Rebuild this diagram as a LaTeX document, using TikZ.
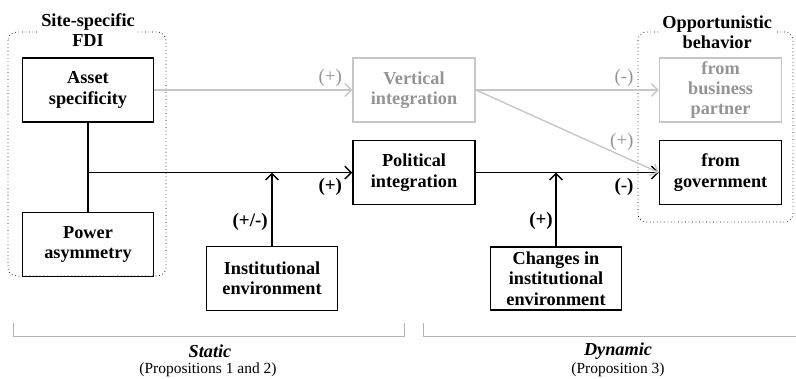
\documentclass[tikz,border=0pt]{standalone}
\usepackage{fontspec}
\setmainfont{Liberation Serif}
\usepackage{xcolor}
\usetikzlibrary{arrows.meta, positioning}

\begin{document}
\begin{tikzpicture}[
  box/.style={draw,line width=1.1pt,minimum width=3.275cm,minimum height=1.6cm,
              inner sep=2pt,align=center,font=\bfseries\fontsize{13}{14.5}\selectfont},
  nbox/.style={box,minimum width=3.05cm},
  gbox/.style={nbox,draw=black!22,text=black!42},
  group/.style={draw,dotted,rounded corners=6pt,line width=0.5pt},
  title/.style={fill=white,inner sep=2pt,align=center,font=\bfseries\fontsize{13}{14.5}\selectfont},
  sign/.style={inner sep=0pt,font=\bfseries\fontsize{13.5}{13.5}\selectfont},
  gsign/.style={sign,font=\fontsize{13.5}{13.5}\selectfont,text=black!42},
  arr/.style={-{Straight Barb[length=1.6mm,width=3.2mm]},line width=1pt},
  garr/.style={arr,draw=black!22},
  brace/.style={draw=black!30,line width=0.6pt},
]
\useasboundingbox (0,0) rectangle (19.9,-9.475);

% grouping frames
\draw[group] (0.2,-0.8) rectangle (4.15,-6.9);
\draw[group] (15.95,-0.8) rectangle (19.825,-5.55);
\node[title] (fdilab) at (2.2,-0.75) {Site-specific\\FDI};
\node[title] (opplab) at (17.93,-0.8) {Opportunistic\\behavior};

% left column
\node[box] (asset) at (2.2,-2.25) {Asset\\specificity};
\node[box, below=2.225cm of asset] (power) {Power\\asymmetry};

% middle column
\node[gbox, right=4.95cm of asset] (vertical) {Vertical\\integration};
\node[nbox, below=0.425cm of vertical] (political) {Political\\integration};

% right column
\node[gbox, right=4.575cm of vertical] (business) {from\\business\\partner};
\node[nbox, below=0.425cm of business] (government) {from\\government};

% moderators
\node[box] (inst) at (6.8,-6.96) {Institutional\\environment};
\node[box, inner sep=0.5pt, minimum height=1.575cm] (change) at (13.9,-6.96) {Changes in\\institutional\\environment};

% edges
\draw[line width=1pt] (asset) -- (power);
\draw[arr] (asset.south |- political.west) -- (political.west);
\draw[arr] (political.east) -- (government.west);
\draw[arr] (inst.north) -- (inst.north |- political.west);
\draw[arr] (change.north) -- (change.north |- political.west);
\draw[garr] (asset.east) -- (vertical.west);
\draw[garr] (vertical.east) -- (business.west);
\draw[garr] (vertical.east) -- (government.west);

% signs
\node[gsign, above left=0.075cm and 0.25cm of vertical.west] {(+)};
\node[sign, below left=0.15cm and 0.25cm of political.west] {(+)};
\node[sign, above left=0.375cm and 0.1cm of inst.north] {(+/-)};
\node[sign, above left=0.4cm and 0.075cm of change.north] {(+)};
\node[gsign, above left=0.075cm and 0.625cm of business.west] {(-)};
\node[gsign, above left=0.55cm and 0.625cm of government.west] {(+)};
\node[sign, below left=0.15cm and 0.625cm of government.west] {(-)};

% time frames
\draw[brace] (0.325,-8.075) -- (0.325,-8.4) -- (10.1,-8.4) -- (10.1,-8.075);
\draw[brace] (10.575,-8.075) -- (10.575,-8.4) -- (19.9,-8.4);
\node[font=\bfseries\itshape\fontsize{13}{13}\selectfont] (static) at (5.25,-8.78) {Static};
\node[font=\fontsize{11}{11}\selectfont] (prop12) at (5.2,-9.25) {(Propositions 1 and 2)};
\node[font=\bfseries\itshape\fontsize{13}{13}\selectfont] (dynamic) at (15.45,-8.78) {Dynamic};
\node[font=\fontsize{11}{11}\selectfont] (prop3) at (15.45,-9.25) {(Proposition 3)};

\end{tikzpicture}
\end{document}
